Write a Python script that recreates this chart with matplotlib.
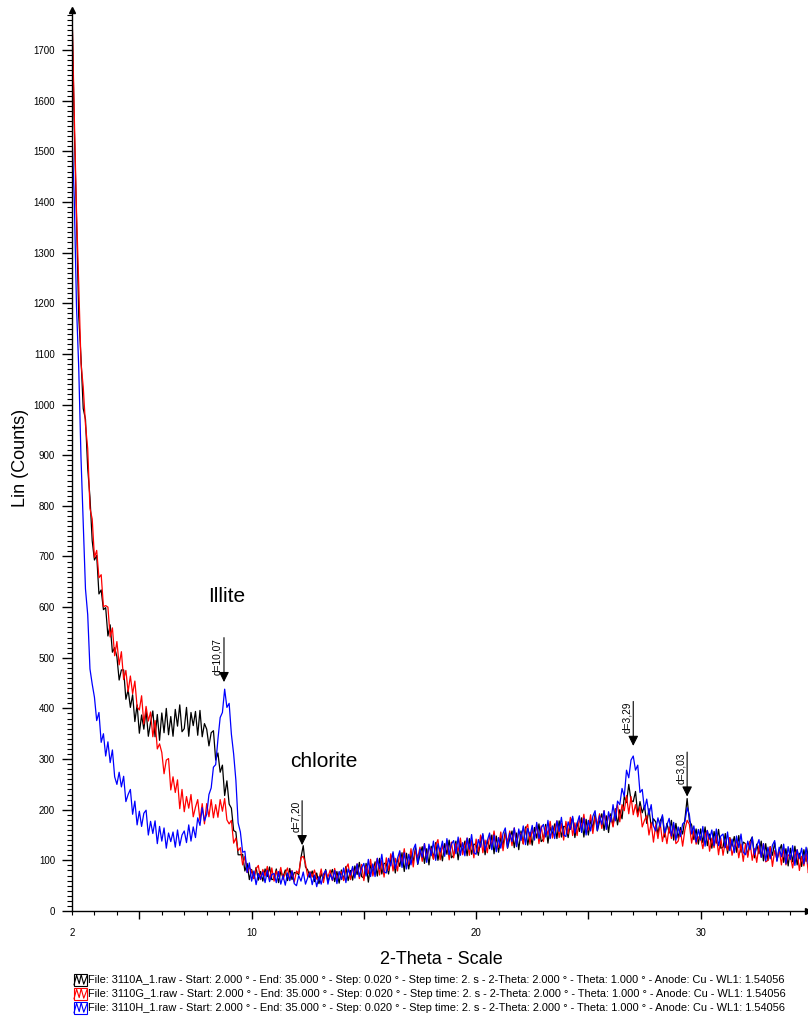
import numpy as np
import matplotlib
matplotlib.use("Agg")
import matplotlib.pyplot as plt
from matplotlib.lines import Line2D
from matplotlib.patches import Rectangle
from matplotlib.ticker import MultipleLocator, FuncFormatter

plt.rcParams['font.family'] = ['Liberation Sans', 'DejaVu Sans']

# =========================
# DATA (at 0.1 deg)
# =========================
START, END, STEP = 2.0, 35.0, 0.1
two_theta = np.round(np.arange(START, END + STEP / 2, STEP), 1)

counts_3110A = [
    1780, 1553, 1370, 1174, 1093, 992, 971, 874, 817, 731,
    693, 702, 626, 634, 595, 599, 543, 565, 511, 520,
    502, 456, 476, 476, 418, 437, 402, 427, 374, 407,
    351, 387, 359, 396, 345, 372, 395, 344, 388, 337,
    391, 352, 400, 348, 384, 345, 398, 365, 407, 354,
    360, 402, 345, 392, 366, 394, 347, 396, 344, 370,
    359, 326, 352, 356, 298, 312, 274, 288, 228, 257,
    211, 203, 159, 156, 111, 111, 112, 79, 94, 62,
    82, 64, 86, 61, 78, 59, 83, 68, 87, 62,
    63, 83, 56, 78, 67, 81, 60, 84, 62, 76,
    75, 72, 106, 129, 87, 81, 66, 79, 58, 75,
    54, 74, 63, 82, 58, 71, 82, 58, 78, 55,
    81, 61, 88, 60, 80, 61, 89, 72, 96, 68,
    65, 94, 57, 91, 76, 97, 69, 104, 73, 94,
    94, 73, 102, 114, 75, 104, 88, 115, 78, 114,
    83, 112, 98, 125, 92, 111, 127, 94, 123, 91,
    128, 103, 135, 100, 124, 99, 133, 112, 140, 105,
    110, 138, 101, 133, 118, 138, 109, 143, 112, 132,
    131, 110, 139, 150, 111, 140, 123, 150, 113, 148,
    116, 145, 130, 157, 124, 143, 158, 125, 154, 121,
    158, 133, 166, 130, 155, 130, 165, 144, 172, 137,
    142, 171, 134, 166, 151, 172, 143, 178, 146, 167,
    166, 145, 174, 184, 145, 174, 157, 184, 146, 181,
    150, 179, 164, 191, 158, 177, 192, 159, 188, 155,
    192, 168, 202, 170, 200, 182, 226, 214, 250, 218,
    216, 236, 190, 216, 194, 208, 173, 202, 166, 182,
    176, 152, 178, 187, 146, 173, 154, 179, 140, 173,
    144, 165, 152, 181, 222, 178, 170, 141, 162, 132,
    162, 135, 166, 129, 152, 124, 157, 134, 161, 124,
    126, 153, 114, 145, 128, 147, 116, 149, 116, 136,
    133, 110, 137, 146, 105, 132, 113, 138, 99, 133,
    100, 127, 110, 135, 100, 118, 131, 96, 123, 89,
    124, 97, 128, 91, 114, 88, 121, 98, 125, 89,
    102,
]

counts_3110G = [
    1780, 1574, 1382, 1237, 1082, 1035, 960, 913, 795, 774,
    698, 712, 658, 664, 601, 603, 600, 541, 559, 504,
    532, 486, 512, 457, 475, 433, 464, 429, 454, 403,
    397, 425, 369, 404, 375, 393, 344, 376, 320, 330,
    313, 271, 298, 301, 239, 265, 234, 259, 202, 240,
    196, 226, 203, 230, 186, 205, 220, 179, 212, 172,
    212, 186, 220, 184, 210, 185, 220, 197, 222, 180,
    172, 179, 134, 144, 119, 125, 91, 108, 76, 86,
    79, 64, 83, 90, 62, 82, 69, 88, 61, 85,
    59, 79, 68, 86, 62, 75, 85, 61, 80, 57,
    79, 74, 105, 108, 94, 67, 78, 67, 81, 63,
    63, 83, 56, 78, 67, 81, 60, 84, 62, 76,
    77, 60, 84, 93, 62, 85, 72, 93, 64, 92,
    60, 89, 74, 102, 69, 88, 104, 71, 100, 67,
    105, 80, 113, 79, 104, 79, 115, 94, 123, 89,
    94, 123, 87, 120, 105, 126, 98, 133, 102, 124,
    123, 102, 130, 141, 101, 130, 112, 139, 101, 136,
    105, 133, 118, 144, 111, 129, 144, 110, 139, 105,
    142, 117, 150, 115, 140, 115, 150, 129, 158, 123,
    127, 156, 119, 152, 137, 158, 129, 164, 133, 154,
    153, 132, 161, 171, 132, 161, 144, 171, 133, 168,
    137, 166, 151, 177, 144, 163, 178, 145, 173, 140,
    177, 152, 185, 149, 174, 149, 184, 163, 191, 156,
    161, 190, 153, 186, 171, 192, 163, 198, 167, 188,
    186, 166, 196, 210, 176, 210, 198, 228, 192, 226,
    190, 210, 186, 206, 166, 179, 188, 150, 174, 136,
    170, 143, 174, 137, 160, 133, 166, 143, 170, 133,
    138, 159, 128, 160, 179, 171, 134, 159, 132, 146,
    146, 123, 150, 159, 118, 144, 125, 150, 111, 144,
    110, 137, 120, 145, 110, 127, 140, 105, 132, 98,
    133, 106, 137, 100, 123, 96, 129, 106, 133, 97,
    100, 127, 88, 119, 102, 122, 91, 124, 91, 111,
    108, 85, 112, 121, 80, 108, 89, 114, 75, 109,
    92,
]

counts_3110H = [
    1535, 1408, 1195, 1072, 896, 768, 636, 585, 478, 448,
    422, 376, 392, 333, 350, 306, 334, 293, 318, 265,
    250, 274, 245, 266, 216, 230, 240, 191, 217, 170,
    197, 167, 193, 199, 150, 177, 153, 178, 133, 167,
    138, 164, 124, 154, 137, 156, 126, 160, 129, 150,
    158, 135, 170, 138, 166, 145, 184, 169, 204, 178,
    191, 230, 243, 284, 289, 339, 382, 392, 438, 402,
    410, 349, 310, 258, 174, 156, 116, 118, 76, 95,
    59, 79, 52, 74, 63, 77, 56, 80, 58, 72,
    74, 56, 78, 53, 70, 51, 75, 60, 79, 54,
    50, 70, 59, 77, 53, 66, 76, 52, 71, 48,
    68, 53, 73, 80, 53, 73, 61, 80, 54, 78,
    62, 85, 56, 83, 71, 88, 65, 93, 68, 85,
    94, 69, 102, 68, 93, 68, 104, 83, 112, 77,
    75, 104, 89, 117, 84, 104, 119, 86, 115, 83,
    112, 91, 121, 132, 93, 122, 106, 133, 96, 132,
    109, 138, 100, 133, 117, 138, 108, 143, 111, 132,
    139, 113, 146, 110, 135, 109, 144, 122, 151, 115,
    112, 141, 126, 153, 120, 139, 154, 121, 150, 117,
    145, 124, 153, 164, 125, 154, 137, 164, 127, 162,
    139, 168, 131, 163, 148, 169, 140, 175, 143, 164,
    171, 146, 179, 143, 168, 143, 178, 157, 185, 150,
    147, 176, 161, 187, 154, 173, 188, 155, 183, 150,
    179, 158, 187, 198, 159, 188, 171, 198, 161, 196,
    176, 210, 178, 217, 210, 242, 226, 278, 263, 298,
    306, 278, 288, 234, 240, 200, 221, 190, 210, 168,
    158, 184, 166, 190, 154, 170, 183, 148, 175, 140,
    166, 147, 172, 176, 204, 190, 152, 168, 136, 161,
    140, 167, 128, 159, 142, 160, 129, 162, 129, 148,
    152, 125, 156, 119, 142, 115, 148, 125, 152, 116,
    111, 138, 121, 146, 111, 128, 141, 106, 133, 99,
    126, 103, 130, 139, 98, 126, 107, 132, 93, 127,
    102, 129, 90, 121, 104, 124, 93, 126, 93, 113,
    104,
]

file_names = ["3110A_1.raw", "3110G_1.raw", "3110H_1.raw"]
series = [counts_3110A, counts_3110G, counts_3110H]
colors = ["#000000", "#ff0000", "#0000ff"]

peak_labels = ["d=10,07", "d=7,20", "d=3,29", "d=3,03"]
peak_pos = [8.77, 12.25, 27.0, 29.4]
peak_tip = [452, 130, 326, 226]

phase_labels = ["Illite", "chlorite"]
phase_x = [8.9, 13.2]
phase_y = [620, 296]

# =========================
# FIGURE
# =========================
W, H = 808, 1019
fig = plt.figure(figsize=(W / 100, H / 100), dpi=100)
ax = fig.add_axes([72 / W, 108 / H, 1 - 72 / W, 901 / H])

for y, c in zip(series, colors):
    ax.plot(two_theta, y, color=c, lw=0.9)

ax.set_xlim(2, 2 + 736 / 22.45)
ax.set_ylim(0, 1779)

for s in ["top", "right"]:
    ax.spines[s].set_visible(False)
for s in ["left", "bottom"]:
    ax.spines[s].set_linewidth(1.0)

# axis ticks
ax.xaxis.set_major_locator(MultipleLocator(5))
ax.xaxis.set_minor_locator(MultipleLocator(1))
ax.xaxis.set_major_formatter(FuncFormatter(lambda v, p: f"{v:.0f}" if v % 10 == 0 else ""))
ax.xaxis.set_minor_formatter(FuncFormatter(lambda v, p: "2" if abs(v - 2) < 1e-6 else ""))
ax.yaxis.set_major_locator(MultipleLocator(100))
ax.yaxis.set_minor_locator(MultipleLocator(10))

ax.tick_params(axis="x", which="major", length=5.5, width=1, pad=7, labelsize=7)
ax.tick_params(axis="x", which="minor", length=3, width=0.8, pad=9.5, labelsize=7)
ax.tick_params(axis="y", which="major", length=7.2, width=1, pad=5, labelsize=7)
ax.tick_params(axis="y", which="minor", length=3.6, width=0.8)

# axis arrows
ax.plot(0, 1, marker="^", ms=5, color="black", transform=ax.transAxes, clip_on=False)
ax.plot(1, 0, marker=">", ms=5, color="black", transform=ax.transAxes, clip_on=False)

ax.set_xlabel("2-Theta - Scale", fontsize=13, va="center")
ax.xaxis.set_label_coords((441.5 - 72) / 736, (911 - 959) / 901)
ax.set_ylabel("Lin (Counts)", fontsize=13, va="center")
ax.yaxis.set_label_coords((20 - 72) / 736, (911 - 458) / 901)

# peak markers
for lab, xp, yp in zip(peak_labels, peak_pos, peak_tip):
    ax.annotate("", xy=(xp, yp), xytext=(0, 32), textcoords="offset points",
                arrowprops=dict(arrowstyle="-|>,head_length=0.6,head_width=0.3",
                                color="black", lw=0.8, shrinkA=0, shrinkB=0))
    ax.annotate(lab, xy=(xp, yp), xytext=(-1, 32), textcoords="offset points",
                rotation=90, ha="right", va="top", fontsize=7.3)

for lab, xp, yp in zip(phase_labels, phase_x, phase_y):
    ax.text(xp, yp, lab, fontsize=15, ha="center", va="center")

# =========================
# SCAN INFO (legend rows)
# =========================
zig = [(0.0, 0.1), (0.2, 0.9), (0.4, 0.2), (0.55, 0.95), (0.75, 0.15), (1.0, 0.85)]
for i, (name, c) in enumerate(zip(file_names, colors)):
    yc = 980 + 14 * i
    x0, y0, bw, bh = 74, yc - 6, 13, 12
    fig.add_artist(Rectangle((x0 / W, 1 - (y0 + bh) / H), bw / W, bh / H,
                             transform=fig.transFigure, fill=False, ec=c, lw=0.8))
    fig.add_artist(Line2D([(x0 + px * bw) / W for px, py in zig],
                          [1 - (y0 + bh - py * bh) / H for px, py in zig],
                          transform=fig.transFigure, color=c, lw=0.8))
    info = (f"File: {name} - Start: 2.000 \u00b0 - End: 35.000 \u00b0 - Step: 0.020 \u00b0 - "
            f"Step time: 2. s - 2-Theta: 2.000 \u00b0 - Theta: 1.000 \u00b0 - Anode: Cu - WL1: 1.54056")
    fig.text(88 / W, 1 - yc / H, info, fontsize=7.9, ha="left", va="center")

fig.savefig("out.png", dpi=100)
